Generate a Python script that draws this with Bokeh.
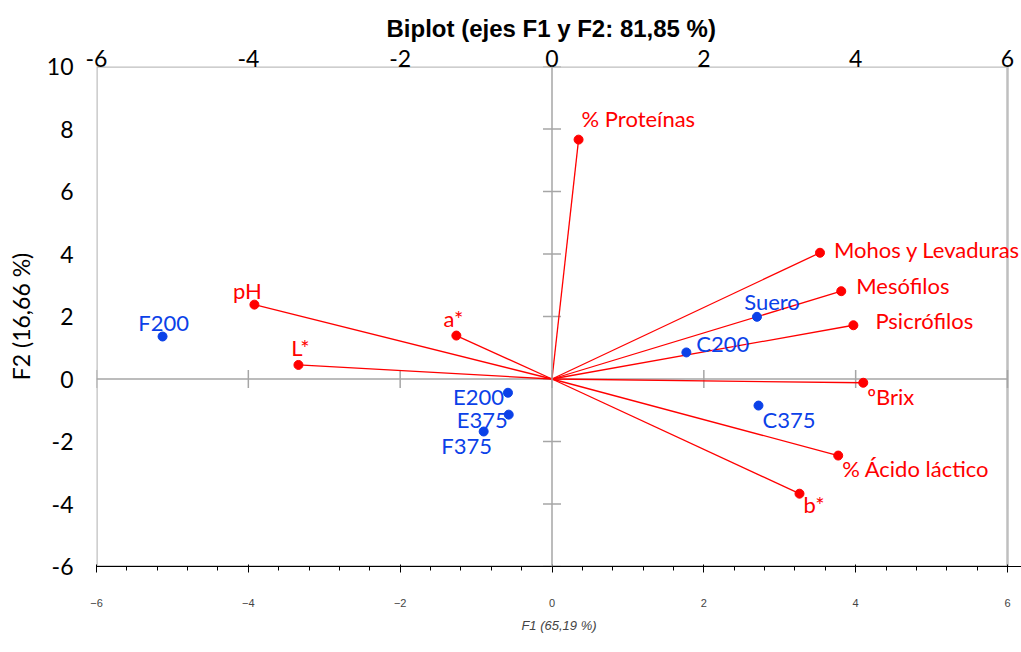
from bokeh.plotting import figure
from bokeh.models import Span, FixedTicker, Range1d, Label, ColumnDataSource, LinearAxis
from bokeh.embed import file_html
from bokeh.resources import INLINE

# ---- data ----
var_names = ["% Proteínas", "Mohos y Levaduras", "Mesófilos", "Psicrófilos", "ºBrix",
             "% Ácido láctico", "b*", "pH", "a*", "L*"]
var_f1 = [0.35, 3.53, 3.81, 3.97, 4.10, 3.77, 3.26, -3.92, -1.26, -3.34]
var_f2 = [7.66, 4.04, 2.81, 1.72, -0.12, -2.45, -3.67, 2.38, 1.39, 0.45]

obs_names = ["F200", "Suero", "C200", "E200", "E375", "F375", "C375"]
obs_f1 = [-5.13, 2.70, 1.77, -0.58, -0.57, -0.90, 2.72]
obs_f2 = [1.36, 1.99, 0.85, -0.44, -1.14, -1.68, -0.85]

x_ticks = [-6, -4, -2, 0, 2, 4, 6]
y_ticks = [-6, -4, -2, 0, 2, 4, 6, 8, 10]

title_text = "Biplot (ejes F1 y F2: 81,85 %)"
x_title = "F1 (65,19 %)"
y_title = "F2 (16,66 %)"

# ---- label placement (styles, pixels; dy positive = up) ----
var_align = ["left", "left", "left", "left", "left", "left", "left", "center", "center", "center"]
var_dx = [3, 14, 15, 22, 4, 4, 4, -7, -3, 2]
var_dy = [21, 3, 6, 5, -14, -13, -11, 14, 17, 17]
obs_align = ["center", "center", "left", "right", "right", "center", "left"]
obs_dx = [1, 15, 10, -4, -1, -17, 4]
obs_dy = [14, 15, 9, -4, -5, -14, -14]

RED = "#ff0000"
BLUE = "#0b41e8"
GRAY = "#a6a6a6"
FONT = "Lato"

# frame extends 14px past x=6 so that long labels are not clipped (scale kept at ~75.9 px/unit)
x_pad = 14 / 75.92

p = figure(width=1021, height=652, output_backend="svg", toolbar_location=None,
           x_range=Range1d(x_ticks[0], x_ticks[-1] + x_pad),
           y_range=Range1d(y_ticks[0], y_ticks[-1]),
           min_border_left=96, min_border_right=0, min_border_top=66, min_border_bottom=86)

p.title.text = title_text
p.title.align = "left"
p.title.offset = 290
p.title.text_font = "Liberation Sans"
p.title.text_font_size = "24px"
p.title.text_font_style = "bold"
p.title.text_color = "#000000"
p.title.standoff = 10

# invisible spacer axis between the frame and the title
spacer = LinearAxis(ticker=FixedTicker(ticks=[]), axis_line_color=None,
                    major_tick_out=23, major_tick_in=0, major_tick_line_alpha=0,
                    minor_tick_out=0, minor_tick_line_alpha=0,
                    major_label_standoff=0, major_label_text_font_size="1px")
p.add_layout(spacer, "above")

p.xgrid.visible = False
p.ygrid.visible = False
p.outline_line_color = None

for ax, ticks in ((p.xaxis[0], x_ticks), (p.yaxis[0], y_ticks)):
    ax.ticker = FixedTicker(ticks=ticks)
    ax.major_label_overrides = {t: str(t) for t in ticks}
    ax.axis_line_color = None
    ax.major_tick_line_color = None
    ax.minor_tick_line_color = None
    ax.major_tick_out = 0
    ax.major_tick_in = 0
    ax.minor_tick_out = 0
    ax.major_label_text_font = FONT
    ax.major_label_text_font_size = "23px"
    ax.major_label_text_color = "#000000"
    ax.axis_label_text_font = FONT
    ax.axis_label_text_font_size = "23px"
    ax.axis_label_text_font_style = "normal"
    ax.axis_label_text_color = "#000000"

xa = [a for a in p.below if isinstance(a, LinearAxis)][0]
ya = p.left[0]
xa.axis_label = x_title
ya.axis_label = y_title
xa.major_label_standoff = 26
xa.axis_label_standoff = 8
ya.major_label_standoff = 23
ya.axis_label_standoff = 9

# plot-area border
p.quad(left=[x_ticks[0]], right=[x_ticks[-1]], bottom=[y_ticks[0]], top=[y_ticks[-1]],
       fill_color=None, line_color="#bfbfbf", line_width=2.5)

# zero axes with cross tick marks
p.add_layout(Span(location=0, dimension="height", line_color=GRAY, line_width=1.5))
p.segment(x0=[x_ticks[0]], y0=[0], x1=[x_ticks[-1]], y1=[0], line_color=GRAY, line_width=1.5)
p.scatter(x=[0] * len(y_ticks), y=y_ticks, marker="dash", size=18,
          line_color=GRAY, line_width=1.5)
p.scatter(x=x_ticks, y=[0] * len(x_ticks), marker="dash", size=18, angle=1.5708,
          line_color=GRAY, line_width=1.5)

# variable vectors
vsrc = ColumnDataSource(dict(x0=[0] * len(var_f1), y0=[0] * len(var_f2), x=var_f1, y=var_f2))
p.segment(x0="x0", y0="y0", x1="x", y1="y", source=vsrc, line_color=RED, line_width=1.3)
p.scatter(x="x", y="y", source=vsrc, size=9, fill_color=RED, line_color=RED)
for name, x, y, al, dx, dy in zip(var_names, var_f1, var_f2, var_align, var_dx, var_dy):
    p.add_layout(Label(x=x, y=y, text=name, text_align=al, text_baseline="middle",
                       x_offset=dx, y_offset=dy, text_color=RED, text_font=FONT,
                       text_font_size="22px"))

# observations
osrc = ColumnDataSource(dict(x=obs_f1, y=obs_f2))
p.scatter(x="x", y="y", source=osrc, size=9, fill_color=BLUE, line_color=BLUE)
for name, x, y, al, dx, dy in zip(obs_names, obs_f1, obs_f2, obs_align, obs_dx, obs_dy):
    p.add_layout(Label(x=x, y=y, text=name, text_align=al, text_baseline="middle",
                       x_offset=dx, y_offset=dy, text_color=BLUE, text_font=FONT,
                       text_font_size="22px"))

open("out.html", "w").write(file_html(p, INLINE))
